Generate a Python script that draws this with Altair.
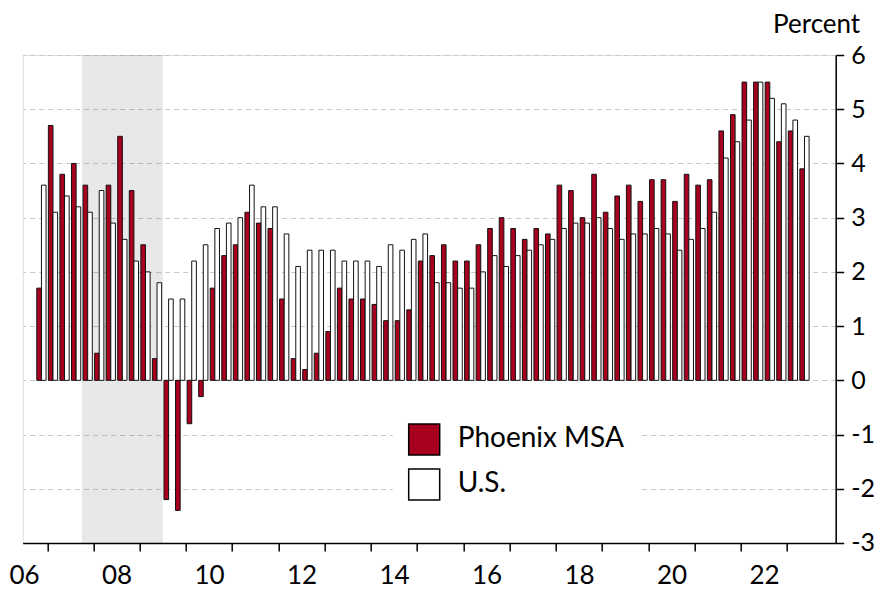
import altair as alt
import pandas as pd

# ---- data (quarterly, percent) ----
years = list(range(2006, 2024))
periods = ["2006Q4"] + [f"{y}Q{q}" for y in range(2007, 2023) for q in (1, 2, 3, 4)] + ["2023Q1", "2023Q2"]

phoenix = [1.7,
           4.7, 3.8, 4.0, 3.6,
           0.5, 3.6, 4.5, 3.5,
           2.5, 0.4, -2.2, -2.4,
           -0.8, -0.3, 1.7, 2.3,
           2.5, 3.1, 2.9, 2.8,
           1.5, 0.4, 0.2, 0.5,
           0.9, 1.7, 1.5, 1.5,
           1.4, 1.1, 1.1, 1.3,
           2.2, 2.3, 2.5, 2.2,
           2.2, 2.5, 2.8, 3.0,
           2.8, 2.6, 2.8, 2.7,
           3.6, 3.5, 3.0, 3.8,
           3.1, 3.4, 3.6, 3.3,
           3.7, 3.7, 3.3, 3.8,
           3.6, 3.7, 4.6, 4.9,
           5.5, 5.5, 5.5, 4.4,
           4.6, 3.9]

us = [3.6,
      3.1, 3.4, 3.2, 3.1,
      3.5, 2.9, 2.6, 2.2,
      2.0, 1.8, 1.5, 1.5,
      2.2, 2.5, 2.8, 2.9,
      3.0, 3.6, 3.2, 3.2,
      2.7, 2.1, 2.4, 2.4,
      2.4, 2.2, 2.2, 2.2,
      2.1, 2.5, 2.4, 2.6,
      2.7, 1.8, 1.8, 1.7,
      1.7, 2.0, 2.3, 2.1,
      2.3, 2.4, 2.5, 2.6,
      2.8, 2.9, 2.9, 3.0,
      2.8, 2.6, 2.7, 2.7,
      2.8, 2.7, 2.4, 2.6,
      2.8, 3.1, 4.1, 4.4,
      4.8, 5.5, 5.2, 5.1,
      4.8, 4.5]

series_names = ["Phoenix MSA", "U.S."]
series_colors = ["#A8001F", "#FFFFFF"]

recession_start = ["2007Q4"]
recession_end = ["2009Q2"]

y_ticks = [-3, -2, -1, 0, 1, 2, 3, 4, 5, 6]

# ---- table ----
rows = []
for p, a, b in zip(periods, phoenix, us):
    rows.append({"period": p, "series": series_names[0], "value": a})
    rows.append({"period": p, "series": series_names[1], "value": b})
df = pd.DataFrame(rows)
rec = pd.DataFrame({"start": recession_start, "end": recession_end})

W, H = 813, 488
FONT = "Lato"
BAR_W = 0.1  # years
AX_FS = 26

x_scale = alt.Scale(domain=[2006.47, 2024.05], nice=False, zero=False)
y_scale = alt.Scale(domain=[-3, 6], nice=False, zero=False)

half_year_px = W / (2024.05 - 2006.47) / 2

x_axis = alt.Axis(
    values=[y + 0.5 for y in years],
    title="",
    tickOffset=-half_year_px,
    labelOffset=half_year_px,
    labelExpr="floor(datum.value) % 2 == 0 ? slice(toString(floor(datum.value)), 2) : ''",
    labelOverlap=False,
    labelFlush=False,
    labelFont=FONT,
    labelFontSize=AX_FS,
    labelColor="black",
    labelPadding=12,
    tickSize=8,
    tickWidth=1.5,
    tickColor={"condition": {"test": "datum.value < 2007", "value": "transparent"}, "value": "black"},
    domainColor="black",
    domainWidth=1.5,
    grid=False,
)

y_axis = alt.Axis(
    orient="right",
    values=y_ticks,
    labelExpr="toString(datum.value)",
    labelFont=FONT,
    labelFontSize=25,
    labelColor="black",
    labelPadding=7,
    tickSize=8,
    tickWidth=1.5,
    tickColor="black",
    domainColor="black",
    domainWidth=1.5,
    grid=True,
    gridColor="#c8c8c8",
    gridDash=[5, 4],
    gridWidth=1,
    title="Percent",
    titleFont=FONT,
    titleFontSize=AX_FS,
    titleFontWeight="normal",
    titleColor="black",
    titleAngle=0,
    titleAlign="right",
    titleBaseline="alphabetic",
    titleX=24,
    titleY=-23,
)

shade = alt.Chart(rec).transform_calculate(
    s="toNumber(slice(datum.start, 0, 4)) + (toNumber(slice(datum.start, 5)) - 1) / 4",
    e="toNumber(slice(datum.end, 0, 4)) + toNumber(slice(datum.end, 5)) / 4",
).mark_rect(color="black", opacity=0.09).encode(
    x=alt.X("s:Q", scale=x_scale, axis=x_axis),
    x2="e:Q",
    y=alt.value(0),
    y2=alt.value(H),
)

bars = alt.Chart(df).transform_calculate(
    t="toNumber(slice(datum.period, 0, 4)) + (toNumber(slice(datum.period, 5)) - 0.5) / 4",
).transform_calculate(
    x0=f"datum.series == '{series_names[0]}' ? datum.t - {BAR_W} : datum.t",
    x1=f"datum.series == '{series_names[0]}' ? datum.t : datum.t + {BAR_W}",
).mark_rect(stroke="#111111", strokeWidth=1).encode(
    x=alt.X("x0:Q", scale=x_scale, axis=x_axis),
    x2="x1:Q",
    y=alt.Y("value:Q", scale=y_scale, axis=y_axis),
    y2=alt.datum(0),
    color=alt.Color(
        "series:N",
        title="",
        scale=alt.Scale(domain=series_names, range=series_colors),
        legend=alt.Legend(
            orient="none",
            legendX=370,
            legendY=353,
            fillColor="white",
            padding=15,
            symbolType="square",
            symbolSize=961,
            symbolStrokeColor="black",
            symbolStrokeWidth=1.5,
            labelFont=FONT,
            labelFontSize=28,
            labelColor="black",
            labelOffset=17,
            rowPadding=8,
            labelLimit=400,
        ),
    ),
)

chart = alt.layer(shade, bars).properties(
    width=W,
    height=H,
    autosize=alt.AutoSizeParams(type="none"),
    padding={"left": 14.7, "top": 47, "right": 38, "bottom": 46},
).configure_view(
    stroke="black",
    strokeWidth=1.5,
).configure(font=FONT)

chart.save("out.html", embed_options={"renderer": "svg", "actions": False})
